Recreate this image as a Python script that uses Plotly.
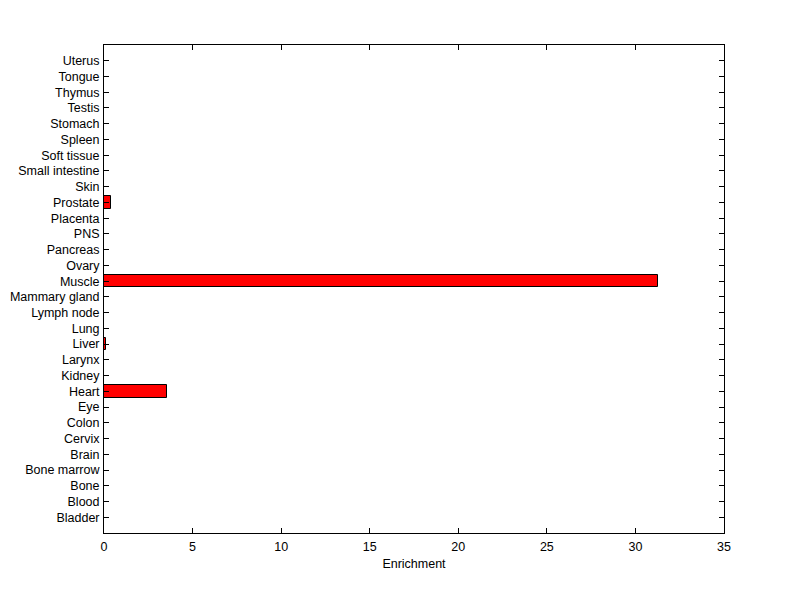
import plotly.graph_objects as go

tissues = ["Bladder", "Blood", "Bone", "Bone marrow", "Brain", "Cervix", "Colon", "Eye",
           "Heart", "Kidney", "Larynx", "Liver", "Lung", "Lymph node", "Mammary gland",
           "Muscle", "Ovary", "Pancreas", "PNS", "Placenta", "Prostate", "Skin",
           "Small intestine", "Soft tissue", "Spleen", "Stomach", "Testis", "Thymus",
           "Tongue", "Uterus"]
enrichment = [0, 0, 0, 0, 0, 0, 0, 0,
              3.53, 0, 0, 0.12, 0, 0, 0,
              31.3, 0, 0, 0, 0, 0.38, 0,
              0, 0, 0, 0, 0, 0,
              0, 0]
positions = list(range(1, len(tissues) + 1))

fig = go.Figure()
fig.add_trace(go.Bar(
    x=enrichment, y=positions, orientation="h", width=0.8,
    marker=dict(color="#ff0000", line=dict(color="black", width=1)),
))

font = dict(family="Liberation Sans, Arial, sans-serif", size=12.5, color="black")
fig.update_layout(
    width=800, height=599,
    margin=dict(l=96, r=84, t=37, b=74),
    paper_bgcolor="white", plot_bgcolor="white",
    showlegend=False, font=font, bargap=0,
    xaxis=dict(range=[0, 35], tickvals=[0, 5, 10, 15, 20, 25, 30, 35],
               ticks="inside", ticklen=5, tickcolor="black",
               showline=True, linecolor="black", linewidth=1, mirror="ticks",
               showgrid=False, zeroline=False, ticklabelstandoff=2,
               automargin=False,
               title=dict(text="Enrichment", standoff=6, font=font)),
    yaxis=dict(range=[0, 31], tickvals=positions, ticktext=tissues,
               ticks="inside", ticklen=5, tickcolor="black",
               showline=True, linecolor="black", linewidth=1, mirror="ticks",
               showgrid=False, zeroline=False, ticklabelstandoff=1,
               automargin=False),
)
fig.write_html("out.html")
